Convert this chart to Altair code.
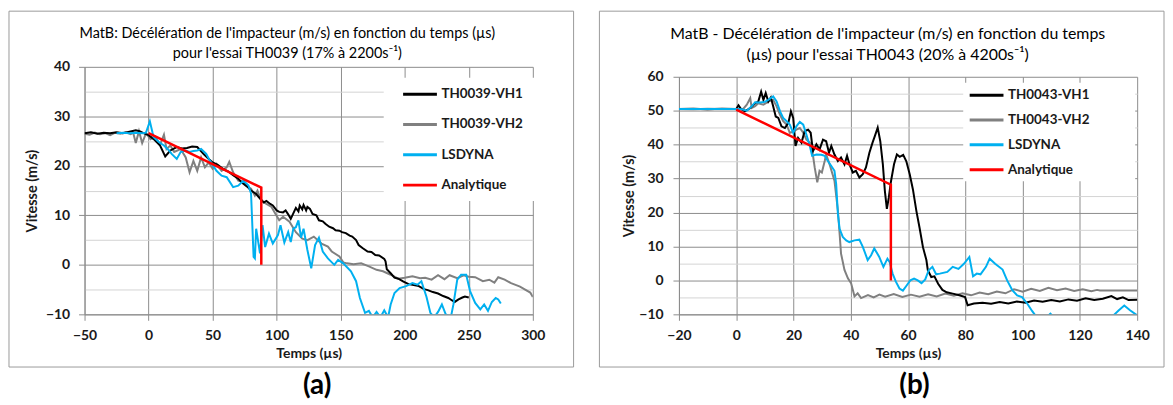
import altair as alt
import pandas as pd

FONT = "Lato"
TXT = "#1a1a1a"
MAJ = "#8c8c8c"
MIN = "#d4d4d4"
FRAME = "#9a9a9a"

# ---------------- Panel (a) : TH0039 ----------------
a_names = ["TH0039-VH1", "TH0039-VH2", "LSDYNA", "Analytique"]
a_colors = ["#000000", "#808080", "#00B0F0", "#FF0000"]

a_vh1_t = [-50, -45, -40, -35, -30, -25, -20, -15, -10, -7, -4, 0, 4, 9, 13, 17, 22, 26, 30, 34,
           38, 43, 47, 50, 54, 58, 62, 66, 70, 74, 77, 80, 84, 87, 90, 92, 95, 97, 100, 102,
           105, 107, 109, 111, 113, 115, 117, 118, 120, 121, 123, 124, 126, 128, 131, 133, 136, 138, 141, 144,
           146, 149, 151, 154, 157, 159, 162, 164, 167, 171, 174, 177, 180, 184, 185, 186, 189, 192, 195, 199,
           203, 207, 211, 215, 218, 222, 226, 230, 234, 237, 239, 242, 245, 247, 250]
a_vh1_v = [26.6, 26.8, 26.5, 26.7, 26.6, 26.8, 26.6, 26.9, 27.2, 27.0, 26.6, 26.2, 25.4, 24.1, 21.9, 23.1, 23.8, 23.5, 23.6, 23.9,
           23.8, 22.4, 21.4, 20.7, 20.2, 19.4, 18.9, 18.1, 17.4, 16.4, 15.8, 15.0, 14.3, 13.4, 12.6, 12.9, 12.3, 12.0, 11.0, 10.7,
           10.6, 11.0, 10.2, 9.3, 10.4, 11.5, 10.8, 12.0, 11.2, 12.1, 11.0, 11.7, 11.3, 10.3, 10.0, 9.0, 8.8, 8.3, 7.7, 7.4,
           7.0, 6.9, 6.6, 6.4, 5.9, 5.7, 5.0, 4.0, 3.4, 2.7, 2.6, 2.0, 1.9, 1.2, 0.7, -0.9, -1.7, -2.6, -2.8, -3.4,
           -3.9, -4.1, -4.3, -4.9, -5.1, -5.5, -5.8, -6.3, -6.7, -7.2, -7.5, -7.0, -6.6, -6.4, -6.6]

a_vh2_t = [-50, -46, -42, -38, -34, -30, -26, -22, -18, -14, -12, -10, -7.5, -5, -2, 1.5, 5, 9, 12, 14,
           17, 20, 25, 29, 32, 35, 38, 41, 44, 47, 50, 53, 57, 61, 63, 66, 70, 74, 78, 80,
           83, 85, 88, 92, 96, 99, 102, 105, 110, 115, 120, 124, 129, 135, 140, 143, 149, 152, 155, 160,
           166, 172, 178, 183, 189, 195, 200, 206, 212, 216, 221, 226, 231, 235, 241, 246, 250, 255, 261, 266,
           270, 273, 278, 283, 287, 290, 294, 298, 300]
a_vh2_v = [26.5, 26.3, 26.7, 26.4, 26.6, 26.2, 26.7, 26.5, 26.8, 26.4, 26.7, 24.6, 27.0, 24.6, 26.6, 25.4, 25.9, 24.3, 26.3, 23.4,
           24.1, 22.8, 23.4, 21.7, 18.7, 21.0, 19.0, 21.7, 19.7, 20.7, 19.4, 20.4, 19.0, 19.7, 20.8, 18.7, 17.0, 16.7, 15.7, 15.4,
           14.0, 15.0, 13.0, 12.3, 11.7, 10.3, 9.0, 9.7, 8.7, 6.6, 5.3, 5.0, 5.7, 4.3, 3.7, 2.7, 1.7, 0.5, 0.3, 0.1,
           0.3, -0.3, -1.0, -1.3, -2.0, -2.8, -2.6, -2.3, -2.7, -2.6, -3.0, -2.1, -2.9, -2.1, -2.7, -2.1, -2.4, -2.5, -3.3, -3.0,
           -3.6, -2.5, -3.0, -3.7, -4.1, -4.4, -5.0, -5.6, -6.5]

a_ls_t = [-25, -20, -15, -10, -5, -2, 1, 3, 4, 8, 12, 16, 18, 22, 25, 29, 32, 35, 38, 41,
          45, 48, 53, 57, 61, 66, 70, 74, 78, 80, 82, 83, 84, 87, 89, 91, 94, 97, 101, 103,
          106, 109, 111, 113, 115, 117, 119, 121, 124, 127, 130, 133, 136, 140, 145, 148, 152, 158, 162, 165,
          169, 172, 175, 178, 181, 184, 187, 189, 192, 196, 201, 206, 210, 213, 217, 220, 223, 226, 229, 232,
          236, 238, 241, 244, 248, 251, 255, 259, 262, 265, 268, 271, 273, 275]
a_ls_v = [26.6, 26.7, 26.6, 26.7, 26.6, 26.7, 29.0, 26.8, 25.8, 24.8, 24.1, 23.1, 22.4, 21.4, 22.8, 23.1, 22.8, 23.0, 23.1, 23.4,
          22.4, 21.0, 19.0, 18.0, 17.7, 15.7, 16.0, 17.0, 16.0, 14.4, 1.6, 1.3, 7.3, 2.3, 8.0, 3.6, 6.3, 4.3, 6.0, 8.0,
          4.5, 6.6, 4.6, 7.3, 7.6, 9.0, 5.5, 7.3, 3.0, -0.7, 4.0, 5.5, 2.7, 1.3, 0.0, 1.0, 0.3, -1.3, -3.3, -6.7,
          -9.7, -9.3, -10.6, -9.5, -10.6, -9.2, -10.6, -8.0, -5.7, -4.7, -4.3, -3.7, -4.0, -3.3, -6.5, -9.7, -10.6, -9.5, -8.0, -10.0,
          -10.6, -8.0, -3.0, -2.0, -2.0, -5.3, -7.7, -9.0, -8.0, -9.3, -7.5, -6.7, -7.0, -7.8]

a_an_t = [0, 88, 88]
a_an_v = [26.6, 15.6, 0]

# ---------------- Panel (b) : TH0043 ----------------
b_names = ["TH0043-VH1", "TH0043-VH2", "LSDYNA", "Analytique"]
b_colors = ["#000000", "#808080", "#00B0F0", "#FF0000"]

b_vh1_t = [-20, -15, -10, -5, 0, 0.8, 1.7, 3, 4.9, 6.6, 7.7, 8.7, 9.5, 10.3, 11.2, 12.1, 12.9, 13.8, 14.7, 15.8,
           17, 18.2, 19.1, 19.9, 20.7, 21.6, 22.8, 23.9, 25.1, 26, 26.8, 28, 29.1, 30.3, 31.4, 32.4, 33.2, 34.3, 35.5, 36.6,
           37.8, 38.7, 39.5, 40.7, 41.8, 43, 44.2, 45.3, 46.5, 47.6, 48.4, 49.4, 50.3, 51.2, 51.9, 52.6, 53.3, 54, 55.1, 56.1,
           57.1, 58.3, 59.4, 60.6, 61.7, 62.9, 64, 65.2, 66.4, 66.9, 68.1, 69.2, 70.5, 72, 73.5, 75.6, 77.9, 79.9, 80.8, 83,
           86, 89, 92, 95, 98, 101, 104, 107, 110, 113, 116, 119, 122, 125, 128, 131, 133, 135, 137, 140]
b_vh1_v = [50.5, 50.6, 50.4, 50.6, 50.5, 51.6, 50.5, 49.8, 50.8, 52.2, 52.7, 55.6, 53.2, 55.2, 52.7, 53.9, 51.3, 48.3, 47.9, 45.4,
           44.9, 46.4, 49.8, 47.9, 39.6, 42.0, 40.6, 44.0, 44.4, 43.5, 38.1, 40.1, 38.6, 41.5, 41.0, 37.6, 39.6, 37.1, 35.2, 36.2,
           34.2, 36.7, 34.3, 31.8, 32.3, 30.3, 31.3, 33.3, 37.6, 40.6, 42.5, 45.0, 41.0, 34.2, 26.4, 21.1, 24.5, 29.0, 34.2, 37.1,
           36.4, 37.0, 35.1, 31.2, 26.8, 20.5, 15.6, 9.8, 6.0, 3.0, 1.0, 1.2, -1.0, -2.8, -3.5, -3.9, -4.4, -4.9, -7.3, -6.8,
           -6.6, -6.9, -6.4, -6.8, -6.2, -6.6, -5.9, -6.3, -5.8, -6.2, -5.6, -6.0, -5.3, -5.8, -5.4, -4.6, -5.5, -5.0, -5.8, -5.7]

b_vh2_t = [-20, -15, -10, -5, 0, 2.5, 3.7, 4.9, 5.4, 6.6, 7.7, 9.5, 11.2, 12.9, 14.1, 15.3, 16.4, 17.6, 18.7, 19.9,
           21, 22.2, 23.4, 24.5, 25.7, 26.5, 27.4, 28.3, 29.1, 29.9, 30.9, 31.4, 32.6, 34.3, 35.5, 36.1, 36.6, 37.8, 39, 40.1,
           41.3, 42.4, 43.6, 46, 48, 50, 52, 55, 58, 61, 64, 67, 70, 73, 76, 79, 82, 85, 88, 91,
           94, 97, 100, 103, 106, 109, 112, 115, 118, 121, 124, 126, 127, 140]
b_vh2_v = [50.5, 50.4, 50.6, 50.5, 50.5, 50.6, 51.8, 53.7, 50.8, 51.3, 52.2, 51.8, 52.7, 53.2, 51.3, 48.8, 46.9, 45.9, 43.5, 43.8,
           44.4, 44.9, 43.5, 41.5, 40.6, 38.6, 33.3, 28.9, 32.3, 31.8, 35.2, 37.1, 34.2, 29.4, 20.6, 13.8, 7.9, 3.1, 0.6, -0.8,
           -4.7, -3.8, -5.2, -4.3, -5.0, -4.2, -4.8, -4.0, -4.9, -4.2, -4.8, -4.1, -4.7, -3.9, -4.5, -3.8, -4.4, -3.6, -4.1, -3.3,
           -3.8, -2.6, -3.3, -2.5, -3.1, -2.2, -2.9, -2.4, -3.1, -2.6, -3.2, -2.8, -3.0, -3.0]

b_ls_t = [-20, 0, 2, 3.7, 5.4, 6.6, 8.3, 10, 11.2, 12.9, 14.1, 15.3, 16.4, 17.6, 18.7, 19.9, 21, 22.2, 23.4, 24.5,
          25.7, 26.5, 28, 29.7, 30.9, 32, 33.2, 34.3, 34.9, 35.5, 36.1, 37.2, 38.4, 39.5, 41.3, 43, 44.2, 45.9, 47.1, 48.2,
          49.9, 51.4, 52.8, 53.6, 54.6, 55.7, 57, 58.2, 59.5, 60.8, 62.1, 63.4, 64.7, 66, 67.2, 68.5, 69.8, 71.1, 73.7, 75.6,
          77.6, 79.5, 81.4, 82.7, 84, 85.3, 87.2, 88.5, 90.4, 93, 94.6, 96.4, 98.1, 99.8, 101.6, 103.3, 104.6, 107, 109.7, 110.5,
          115, 120, 125, 131.5, 133.6, 135.5, 137.5, 140]
b_ls_v = [50.5, 50.5, 50.4, 50.0, 51.3, 52.5, 52.4, 52.6, 53.2, 54.2, 52.7, 49.8, 47.9, 46.9, 45.9, 43.5, 45.4, 46.7, 45.9, 43.0,
          39.6, 36.7, 37.1, 37.0, 36.7, 35.2, 33.7, 32.3, 28.4, 19.6, 15.2, 12.8, 11.8, 11.3, 11.8, 12.0, 9.9, 6.0, 7.4, 9.4,
          7.0, 4.0, 6.4, 5.4, 2.0, -0.3, -2.4, -3.0, -1.5, 0.0, 0.5, 0.0, -0.8, 0.3, 3.0, 4.0, 1.8, 2.0, 2.5, 4.0,
          3.4, 4.9, 6.9, 1.2, 2.0, 1.8, 4.0, 6.4, 4.9, 3.2, 0.0, -2.9, -4.4, -4.9, -6.8, -9.0, -10.5, -12.0, -9.8, -10.5,
          -12.0, -12.0, -12.0, -10.5, -8.8, -7.4, -8.8, -10.3]

b_an_t = [0, 54, 54]
b_an_v = [50.3, 28.2, 0]


def make_df(names, ts, vs):
    rows = []
    for name, t, v in zip(names, ts, vs):
        for i, (tt, vv) in enumerate(zip(t, v)):
            rows.append({"serie": name, "t": tt, "v": vv, "i": i})
    return pd.DataFrame(rows)


def panel(names, colors, ts, vs, xdom, xvals, ydom, yvals, W, H, frame, legbox, title_lines, title_xy,
          title_size, title_lh, label, label_xy, leg_xy, leg_row, ylab_pad, ytitle_pad):
    df = make_df(names, ts, vs)
    cond = "datum.value % 10 === 0"
    xenc = alt.X("t:Q", scale=alt.Scale(domain=xdom, nice=False, zero=False),
                 axis=alt.Axis(values=xvals, title="Temps (µs)", grid=True, gridColor=MAJ, gridWidth=1,
                               domainColor=MAJ, tickColor=MAJ, tickSize=6, labelPadding=8,
                               labelFont=FONT, labelFontSize=14, labelFontWeight="bold", labelColor=TXT,
                               labelFlush=False, labelOverlap=False,
                               titleFont=FONT, titleFontSize=14, titleFontWeight="bold", titleColor=TXT,
                               titlePadding=4))
    yenc = alt.Y("v:Q", scale=alt.Scale(domain=ydom, nice=False, zero=False),
                 axis=alt.Axis(values=yvals, title="Vitesse (m/s)", grid=True,
                               gridColor={"condition": {"test": cond, "value": MAJ}, "value": MIN},
                               tickOpacity={"condition": {"test": cond, "value": 1}, "value": 0},
                               gridWidth=1, domainColor=MAJ, tickColor=MAJ, tickSize=6,
                               labelPadding=ylab_pad, labelExpr=f"{cond} ? datum.label : ''",
                               labelFont=FONT, labelFontSize=14, labelFontWeight="bold", labelColor=TXT,
                               labelFlush=False, labelOverlap=False,
                               titleFont=FONT, titleFontSize=14.5, titleFontWeight="bold", titleColor=TXT,
                               titlePadding=ytitle_pad))
    color = alt.Color("serie:N", scale=alt.Scale(domain=names, range=colors),
                      legend=alt.Legend(title=None, orient="none", legendX=leg_xy[0], legendY=leg_xy[1],
                                        symbolType="stroke", symbolSize=1156, symbolStrokeWidth=3,
                                        labelFont=FONT, labelFontSize=13.5, labelFontWeight="bold",
                                        labelColor=TXT, labelOffset=3, rowPadding=leg_row, padding=0))
    base = alt.Chart(df)
    one = pd.DataFrame({"k": [0]})
    layers = []
    # frame round the whole panel
    layers.append(alt.Chart(one).mark_rect(fill="white", fillOpacity=0, stroke=FRAME, strokeWidth=1, clip=False)
                  .encode(x=alt.value(frame[0]), x2=alt.value(frame[1]), y=alt.value(frame[2]), y2=alt.value(frame[3])))
    # white background behind the legend (hides the grid there)
    layers.append(alt.Chart(one).mark_rect(fill="white", clip=False)
                  .encode(x=alt.value(legbox[0]), x2=alt.value(legbox[1]), y=alt.value(legbox[2]), y2=alt.value(legbox[3])))
    for name in [names[1], names[0], names[2], names[3]]:
        sw = 2.5 if name == "Analytique" else 2
        layers.append(base.transform_filter(alt.datum.serie == name)
                      .mark_line(strokeWidth=sw, clip=True)
                      .encode(x=xenc, y=yenc, color=color, order=alt.Order("i:Q")))
    layers.append(alt.Chart(one).mark_text(text=title_lines, font=FONT, fontSize=title_size, color="#000000",
                                           align="center", baseline="middle", lineHeight=title_lh, clip=False)
                  .encode(x=alt.value(title_xy[0]), y=alt.value(title_xy[1])))
    layers.append(alt.Chart(one).mark_text(text=label, font=FONT, fontSize=28, fontWeight="bold", color="#000000",
                                           align="center", baseline="middle", clip=False)
                  .encode(x=alt.value(label_xy[0]), y=alt.value(label_xy[1])))
    main = alt.layer(*layers).properties(width=W, height=H)
    # a 1-px spacer on top so that both panels line up by their frame tops
    spacer = (alt.Chart(one).mark_rect(opacity=0)
              .encode(x=alt.value(0), x2=alt.value(1), y=alt.value(0), y2=alt.value(1))
              .properties(width=1, height=1))
    return alt.vconcat(spacer, main, spacing=0).resolve_scale(color="independent")


pa = panel(a_names, a_colors, [a_vh1_t, a_vh2_t, a_ls_t, a_an_t], [a_vh1_v, a_vh2_v, a_ls_v, a_an_v],
           [-50, 300], list(range(-50, 301, 50)), [-10, 40], list(range(-10, 41, 5)), 451, 249,
           (-76, 492, -56, 302), (301, 453, 11, 135),
           ["MatB: Décélération de l'impacteur (m/s) en fonction du temps (µs)",
            "pour l'essai TH0039 (17% à 2200s⁻¹)"], (204, -33), 14.5, 20,
           "(a)", (234, 321), (319, 9), 5.5, 9, 6)

pb = panel(b_names, b_colors, [b_vh1_t, b_vh2_t, b_ls_t, b_an_t], [b_vh1_v, b_vh2_v, b_ls_v, b_an_v],
           [-20, 140], list(range(-20, 141, 20)), [-10, 60], list(range(-10, 61, 5)), 461, 239,
           (-80, 488, -66, 292), (286, 459, 6, 105),
           ["MatB - Décélération de l'impacteur (m/s) en fonction du temps",
            "(µs) pour l'essai TH0043 (20% à 4200s⁻¹)"], (210, -43), 16, 21.6,
           "(b)", (237, 311), (291, 0), -1.5, 10, 2)

chart = (alt.hconcat(pa, pb, spacing=24)
         .resolve_scale(x="independent", y="independent", color="independent")
         .properties(padding=0, background="white")
         .configure_view(strokeWidth=0))

chart.save("out.html", embed_options={"renderer": "svg", "actions": False})
